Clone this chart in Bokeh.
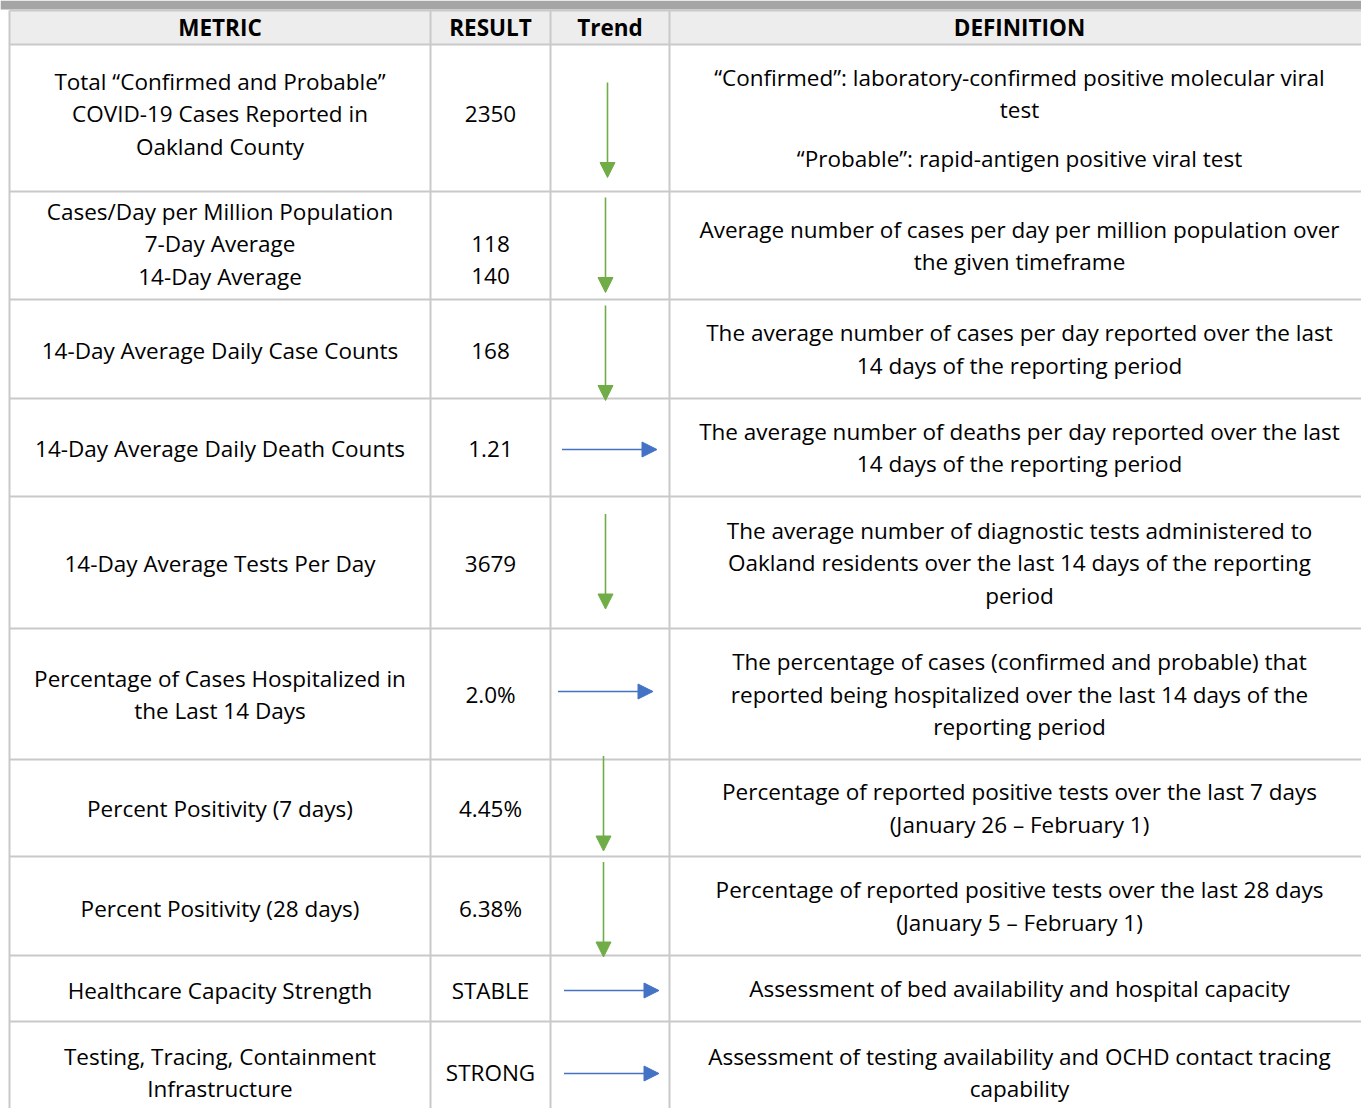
from bokeh.plotting import figure
from bokeh.models import Range1d, Arrow, NormalHead
from bokeh.core.properties import value
from bokeh.embed import file_html
from bokeh.resources import INLINE

# ---------------- data ----------------
headers = ["METRIC", "RESULT", "Trend", "DEFINITION"]

# " " = blank line (full spacing), "" = paragraph gap (half spacing)
metrics = [
    ["Total \u201cConfirmed and Probable\u201d", "COVID-19 Cases Reported in", "Oakland County"],
    ["Cases/Day per Million Population", "7-Day Average", "14-Day Average"],
    ["14-Day Average Daily Case Counts"],
    ["14-Day Average Daily Death Counts"],
    ["14-Day Average Tests Per Day"],
    ["Percentage of Cases Hospitalized in", "the Last 14 Days"],
    ["Percent Positivity (7 days)"],
    ["Percent Positivity (28 days)"],
    ["Healthcare Capacity Strength"],
    ["Testing, Tracing, Containment", "Infrastructure"],
]
results = [
    ["2350"],
    [" ", "118", "140"],
    ["168"],
    ["1.21"],
    ["3679"],
    ["2.0%"],
    ["4.45%"],
    ["6.38%"],
    ["STABLE"],
    ["STRONG"],
]
trends = ["down", "down", "down", "right", "down", "right", "down", "down", "right", "right"]
definitions = [
    ["\u201cConfirmed\u201d: laboratory-confirmed positive molecular viral", "test", "",
     "\u201cProbable\u201d: rapid-antigen positive viral test"],
    ["Average number of cases per day per million population over", "the given timeframe"],
    ["The average number of cases per day reported over the last", "14 days of the reporting period"],
    ["The average number of deaths per day reported over the last", "14 days of the reporting period"],
    ["The average number of diagnostic tests administered to",
     "Oakland residents over the last 14 days of the reporting", "period"],
    ["The percentage of cases (confirmed and probable) that",
     "reported being hospitalized over the last 14 days of the", "reporting period"],
    ["Percentage of reported positive tests over the last 7 days", "(January 26 \u2013 February 1)"],
    ["Percentage of reported positive tests over the last 28 days", "(January 5 \u2013 February 1)"],
    ["Assessment of bed availability and hospital capacity"],
    ["Assessment of testing availability and OCHD contact tracing", "capability"],
]

# ---------------- layout ----------------
W, H = 1361, 1108
TABLE_RIGHT = 1369
col_edges = [9, 430, 550, 669, TABLE_RIGHT]
row_edges = [44, 191, 299, 398, 496, 628, 759, 856, 955, 1021, 1123]
row_text_cy = [113, 243, 350, 448, 563, 694, 808, 908, 990, 1072]
header_top = 10
band_bottom = 9
line_h = 32.5
# arrow centres (x, y) per row
arrow_cx = [607, 605, 605, 609, 605, 605, 603, 603, 611, 611]
arrow_cy = [129.5, 244.5, 352.5, 449, 561, 691, 803, 909, 990, 1073]
arrow_len = 95

FONT = "Open Sans"
FS = "22.5px"
GRID = "#c9c9c9"
GREEN = "#70ad47"
BLUE = "#4472c4"

p = figure(width=W, height=H, x_range=Range1d(0, W), y_range=Range1d(H, 0),
           output_backend="svg", toolbar_location=None, min_border=0)
p.axis.visible = False
p.grid.visible = False
p.outline_line_color = None
p.background_fill_color = "white"

# top band and header fill
p.quad(left=[0], right=[TABLE_RIGHT], top=[0], bottom=[band_bottom], fill_color="#a5a5a5", line_color=None)
p.quad(left=[col_edges[0]], right=[TABLE_RIGHT], top=[header_top], bottom=[row_edges[0]],
       fill_color="#ededed", line_color=None)

# grid lines
hy = [header_top] + row_edges
p.segment(x0=[col_edges[0]] * len(hy), x1=[TABLE_RIGHT] * len(hy), y0=hy, y1=hy,
          line_color=GRID, line_width=2)
p.segment(x0=col_edges, x1=col_edges, y0=[header_top] * len(col_edges),
          y1=[row_edges[-1]] * len(col_edges), line_color=GRID, line_width=2)

col_cx = [(col_edges[i] + col_edges[i + 1]) / 2 for i in range(4)]

# header
p.text(x=col_cx, y=[(header_top + row_edges[0]) / 2] * 4, text=headers,
       text_font=value(FONT), text_font_size=FS, text_font_style="bold",
       text_align="center", text_baseline="middle", text_color="black")


def cell_lines(lines, cy):
    pos = 0.0
    items = []
    for ln in lines:
        if ln == "":
            pos += line_h * 0.5
            continue
        items.append((ln, pos))
        pos += line_h
    span = items[-1][1] if items else 0
    return [(t, cy - span / 2 + o) for t, o in items]


xs, ys, ts = [], [], []
for r in range(len(metrics)):
    cy_row = (row_edges[r] + row_edges[r + 1]) / 2
    for ci, cell in ((0, metrics[r]), (1, results[r]), (3, definitions[r])):
        cy = row_text_cy[r] if ci != 3 else cy_row
        if r == len(metrics) - 1:
            cy = row_text_cy[r]
        for t, y in cell_lines(cell, cy):
            if t.strip():
                xs.append(col_cx[ci])
                ys.append(y)
                ts.append(t)

p.text(x=xs, y=ys, text=ts, text_font=value(FONT), text_font_size=FS,
       text_align="center", text_baseline="middle", text_color="black")

# trend arrows
for tr, cx, cy in zip(trends, arrow_cx, arrow_cy):
    if tr == "down":
        col = GREEN
        x0, y0, x1, y1 = cx, cy - arrow_len / 2, cx, cy + arrow_len / 2
    else:
        col = BLUE
        x0, y0, x1, y1 = cx - arrow_len / 2, cy, cx + arrow_len / 2, cy
    p.add_layout(Arrow(end=NormalHead(size=15, fill_color=col, line_color=col),
                       x_start=x0, y_start=y0, x_end=x1, y_end=y1,
                       line_color=col, line_width=1.6))

open("out.html", "w").write(file_html(p, INLINE))
